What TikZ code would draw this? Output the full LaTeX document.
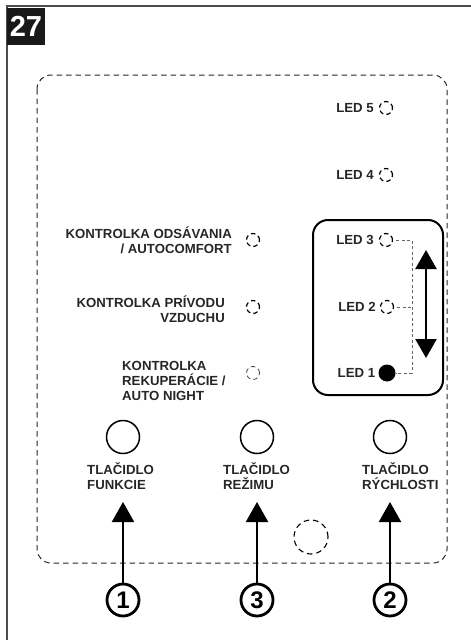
\documentclass[tikz,border=0pt]{standalone}
\usepackage{fontspec}
\setmainfont{Liberation Sans}
\usetikzlibrary{arrows.meta,positioning}

\tikzset{
  lbl/.style={font=\fontsize{13.2}{15}\selectfont\bfseries, text=black!85, inner sep=0pt},
  ledoff/.style={circle, draw, dash pattern=on 4.5pt off 3.2pt, minimum size=13pt, inner sep=0pt, line width=1.2pt},
  button/.style={circle, draw, line width=1.5pt, minimum size=33pt, inner sep=0pt},
  numcirc/.style={circle, draw, line width=2.8pt, minimum size=32pt, inner sep=0pt, font=\fontsize{24}{24}\selectfont\bfseries},
  push/.style={-{Triangle[width=22pt,length=20pt]}, line width=2.2pt},
  guide/.style={black!60, dash pattern=on 3pt off 2.5pt, line width=0.8pt},
}

\begin{document}
\begin{tikzpicture}[x=1pt,y=-1pt]
  \useasboundingbox (0,0) rectangle (471,640);
  % frame and figure number
  \draw[line width=1.6pt, black!70] (471,6) -- (7,6) -- (7,640);
  \node[fill=black!90, text=white, minimum width=38pt, minimum height=37pt, inner sep=0pt,
        font=\fontsize{29}{29}\selectfont\bfseries] (fig) at (26,26.5) {27};
  % panel outline
  \draw[black!85, dash pattern=on 5.5pt off 4pt, line width=1pt, rounded corners=14pt]
    (37,75) rectangle (447,563);

  % speed leds
  \node[ledoff] (led5) at (386,108) {};
  \node[lbl, left=5pt of led5] (l5) {LED 5};
  \node[ledoff] (led4) at (386,175) {};
  \node[lbl, left=5pt of led4] (l4) {LED 4};
  \node[ledoff] (led3) at (386,240) {};
  \node[lbl, left=5pt of led3] (l3) {LED 3};
  \node[ledoff] (led2) at (387,307) {};
  \node[lbl, left=4pt of led2] (l2) {LED 2};
  \node[circle, fill=black, minimum size=17pt, inner sep=0pt] (led1) at (387,373) {};
  \node[lbl, left=3pt of led1] (l1) {LED 1};
  \draw[line width=2pt, rounded corners=15pt] (313,220) rectangle (443,395);
  \coordinate (c3) at (412,240);
  \coordinate (c1) at (412,373);
  \draw[guide, shorten <=3pt] (led3.east) -- (c3) -- (c1) -- (led1.east);
  \draw[guide, shorten <=3pt] (led2.east) -- (c1 |- led2);
  \coordinate (up) at (426,250);
  \coordinate (down) at (426,358);
  \draw[{Triangle[width=21pt,length=19pt]}-{Triangle[width=21pt,length=19pt]}, line width=2.4pt] (up) -- (down);

  % function lamps
  \node[ledoff] (odsav) at (253,240) {};
  \node[lbl, align=right, anchor=east] (lodsav) at (232,240.5) {KONTROLKA ODSÁVANIA\\/ AUTOCOMFORT};
  \node[ledoff] (privod) at (253,307) {};
  \node[lbl, align=right, anchor=east] (lprivod) at (225,309.5) {KONTROLKA PRÍVODU\\VZDUCHU};
  \node[ledoff, line width=0.8pt, black!75] (rekup) at (253,373) {};
  \node[lbl, align=left, anchor=west] (lrekup) at (122,380.5) {KONTROLKA\\REKUPERÁCIE /\\AUTO NIGHT};

  % buttons
  \node[button] (bfun) at (123,437) {};
  \node[lbl, align=left, anchor=west] (lfun) at (87,476) {TLAČIDLO\\FUNKCIE};
  \node[button] (brez) at (257,437) {};
  \node[lbl, align=left, anchor=west] (lrez) at (223,476) {TLAČIDLO\\REŽIMU};
  \node[button] (brych) at (390,437) {};
  \node[lbl, align=left, anchor=west] (lrych) at (362,476) {TLAČIDLO\\RÝCHLOSTI};
  \draw[dash pattern=on 5.5pt off 4pt, line width=1.1pt] (311,537) circle (17pt);

  % callouts
  \node[numcirc] (n1) at (123,600) {1};
  \node[numcirc] (n3) at (257,600) {3};
  \node[numcirc] (n2) at (390,600) {2};
  \coordinate (t1) at (123,502);
  \coordinate (t3) at (257,502);
  \coordinate (t2) at (390,502);
  \draw[push] (n1) -- (t1);
  \draw[push] (n3) -- (t3);
  \draw[push] (n2) -- (t2);
\end{tikzpicture}
\end{document}
